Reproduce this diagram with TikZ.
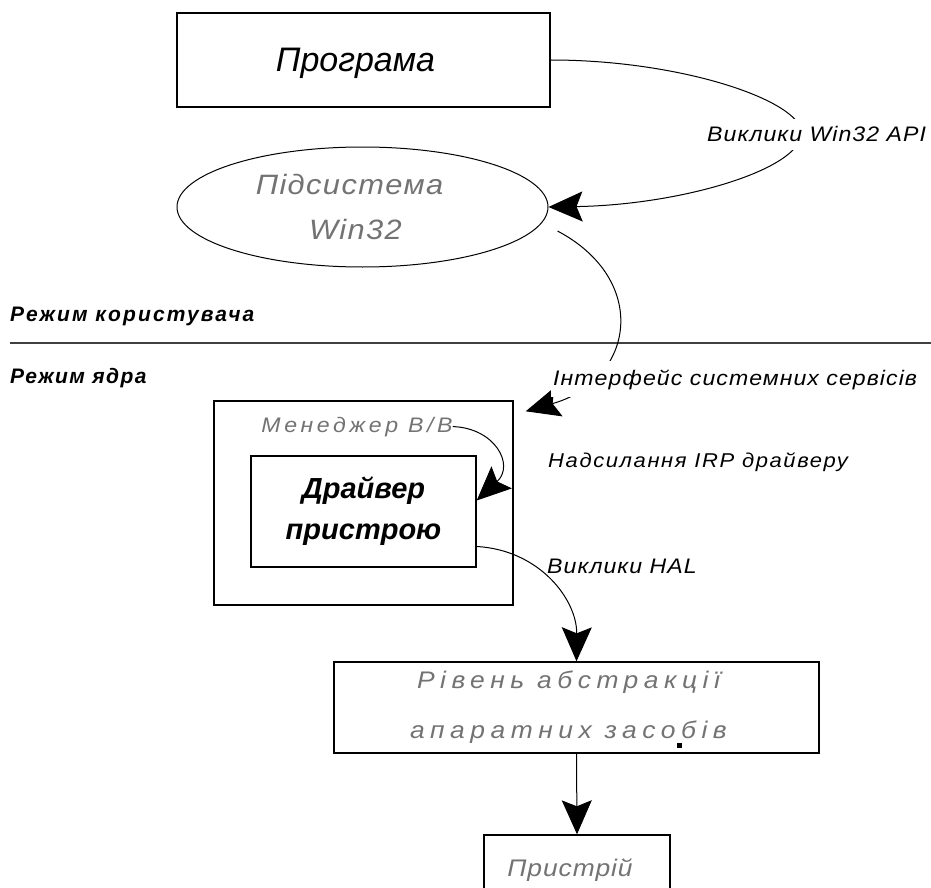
\documentclass[tikz,border=0pt]{standalone}
\usepackage{fontspec}
\setmainfont{Liberation Sans}
\newfontfamily\cadfont{Liberation Sans}[FakeStretch=1.1]
\usetikzlibrary{arrows.meta,shapes.geometric}
\tikzset{
  box/.style={draw, line width=1.4pt, inner sep=0pt},
  conn/.style={line width=1pt, -{Stealth[length=34pt,width=30pt,inset=6pt]}},
  lbl/.style={inner sep=0pt, font={\cadfont\itshape\fontsize{21}{25}\selectfont\addfontfeature{LetterSpace=5}}},
  modetxt/.style={inner sep=0pt, anchor=base west, font={\bfseries\itshape\fontsize{21}{25}\selectfont\addfontfeature{LetterSpace=#1}}},
  cover/.style={fill=white, inner xsep=2pt, inner ysep=8pt},
  greytxt/.style={text=black!55},
}
\begin{document}
\begin{tikzpicture}[x=1pt,y=-1pt]
\path[use as bounding box] (0,0) rectangle (931,888);
\fill[white] (0,0) rectangle (931,888);
\clip (0,0) rectangle (931,888);

% shapes
\node[box, minimum width=373pt, minimum height=94pt, text height=30pt, text depth=6pt,
      font={\itshape\fontsize{34}{40}\selectfont}] (prog) at (363.5,60) {\hspace*{-16pt}Програма};
\node[draw, ellipse, line width=1pt, minimum width=371pt, minimum height=120pt, inner sep=0pt,
      align=center, greytxt, font={\cadfont\itshape\fontsize{28}{45}\selectfont\addfontfeature{LetterSpace=5}}]
      (ell) at (362.5,207) {\hspace*{-26pt}Підсистема\\\hspace*{-14pt}Win32};
\node[box, minimum width=299pt, minimum height=204pt] (mgr) at (363.5,503) {};
\node[greytxt, inner sep=0pt, anchor=base,
      font={\cadfont\itshape\fontsize{21}{25}\selectfont\addfontfeature{LetterSpace=17}}]
      (mgrlbl) at (357,432) {Менеджер В/В};
\node[box, minimum width=225pt, minimum height=111pt, align=center,
      font={\bfseries\itshape\fontsize{29}{41}\selectfont}] (drv) at (363.5,511.5) {Драйвер\\пристрою};
\node[box, minimum width=485pt, minimum height=91pt, align=center, greytxt,
      font={\cadfont\itshape\fontsize{24}{50}\selectfont\addfontfeature{LetterSpace=23}}]
      (hal) at (576.5,707.5) {\hspace*{-16pt}Рівень абстракції\\\hspace*{-16pt}апаратних засобів};
\node[box, minimum width=186pt, minimum height=70pt, greytxt,
      font={\cadfont\itshape\fontsize{24}{30}\selectfont\addfontfeature{LetterSpace=4}}]
      (dev) at (577,870) {\hspace*{-14pt}Пристрій};
\fill (676.5,742.5) rectangle (681.5,747.5);

% separator
\draw[line width=2pt, black!75] (10,343) -- (931,343);
\node[modetxt=10] (umode) at (10,321) {Режим користувача};
\node[modetxt=7] (kmode) at (10,383) {Режим ядра};

% connectors
\draw[conn] (prog.east) .. controls (680,60) and (800,100) .. (802,133)
            .. controls (800,170) and (680,205) .. (ell.east);
\coordinate (ellout) at ([shift={(9,24)}]ell.east);
\coordinate (mgrin) at ([shift={(12,11)}]mgr.north east);
\draw[conn] (ellout) .. controls (650,280) and (635,380) .. (mgrin);
\draw[conn] (mgrlbl.east) .. controls (495,428) and (515,465) .. ([yshift=11pt]drv.east);
\draw[conn] ([yshift=-35pt]drv.east) .. controls (540,550) and (577,600) .. (hal.north);
\draw[conn] (hal.south) -- (dev.north);

% connector labels
\node[lbl, cover, anchor=base west] (lapi) at (705,142) {Виклики Win32 API};
\node[lbl, cover, anchor=base west] (lsys) at (551,385) {Інтерфейс системних сервісів};
\node[lbl, anchor=base west, font={\cadfont\itshape\fontsize{20}{25}\selectfont\addfontfeature{LetterSpace=8}}]
      (lirp) at (548,467) {Надсилання IRP драйверу};
\node[lbl, anchor=base west] (lhal) at (547,573) {Виклики HAL};
\end{tikzpicture}
\end{document}
